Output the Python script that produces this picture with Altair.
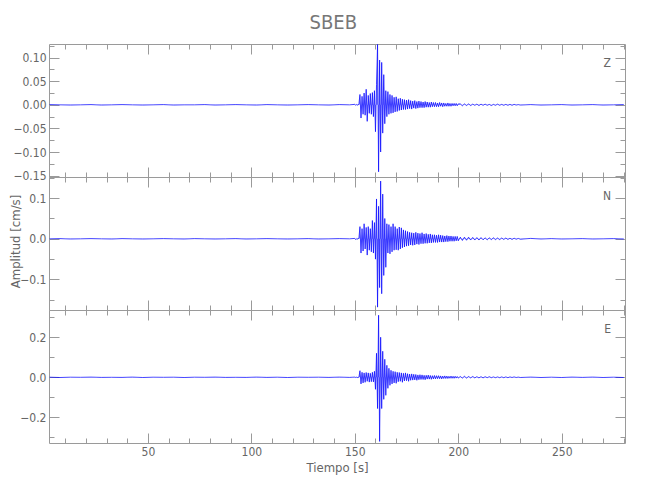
import altair as alt
import numpy as np
import pandas as pd

TITLE = "SBEB"
COMPONENTS = ["Z", "N", "E"]
X_TITLE = "Tiempo [s]"
Y_TITLE = "Amplitud [cm/s]"

# Sample layout of the traces: (start time [s], step [s]) for each segment
SEGMENTS = [(2.5, 5.0), (150.0, 0.5), (201.0, 1.0), (235.0, 5.0)]

# Trace amplitudes, in thousandths of cm/s, per segment
Z_PRE = [0.5, 0, -0.5, 0, 0.5, -0.5, 0, 0.5, 0, -0.5, 0, 0.5, -0.5, 0, 0, 0.5,
         -0.5, 0, 0.5, 0, -0.5, 0.5, 0, -0.5, 0, 0.5, 0, -0.5, 0.5, 0]
Z_EVENT = [1, -1, 1, -1, 2,
           22, -28, 18, -20, 25, -22, 33, -35, 20, -18,
           24, -20, 26, -25, 30, -57, 43, 128, -142, 95,
           -100, 90, -60, 64, -40, 30, -25, 28, -20, 22,
           -18, 20, -17, 16, -15, 17, -14, 13, -12, 14,
           -11, 12, -10, 11, -10, 10, -9, 11, -8, 9,
           -9, 8, -7, 9, -8, 7, -7, 8, -6, 7,
           -6, 6, -6, 7, -5, 6, -5, 5, -5, 6,
           -4, 5, -4, 5, -4, 4, -4, 5, -3, 4,
           -4, 4, -3, 3, -3, 4, -3, 3, -3, 3,
           -2, 3, -2, 3, -2, 2]
Z_CODA = [2, -2, 2, -1.5, 2, -1.5, 1.5, -1, 1.5, -1.5, 1.5, -1, 1.5, -1, 1, -1.5,
          1, -1, 1.5, -1, 1, -1, 1, -1, 1, -1, 1, -0.5, 0.5, -0.5]
Z_POST = [0.5, -0.5, 0, 0.5, -0.5, 0, 0.5, -0.5, 0, 0.5]

N_PRE = [0, 0.5, -0.5, 0, 0.5, 0, -0.5, 0.5, 0, -0.5, 0, 0.5, 0, -0.5, 0.5, 0,
         -0.5, 0, 0.5, -0.5, 0, 0.5, 0, -0.5, 0, 0.5, -0.5, 0, 0.5, 0]
N_EVENT = [1, -2, 1, -1, 2,
           30, -35, 25, -30, 37, -25, 28, -40, 30, -28,
           25, -32, 45, -35, 40, -50, 98, -168, 80, -120,
           142, -135, 110, -90, 50, -70, 37, -35, 35, -37,
           30, -32, 37, -28, 30, -27, 25, -28, 29, -25,
           27, -22, 22, -20, 20, -18, 18, -17, 16, -15,
           15, -16, 14, -15, 16, -13, 14, -14, 13, -12,
           15, -12, 12, -11, 13, -11, 11, -10, 12, -10,
           10, -9, 10, -9, 9, -9, 10, -8, 9, -8,
           8, -8, 7, -7, 8, -7, 7, -6, 7, -6,
           6, -6, 6, -5, 6, -5]
N_CODA = [4, -4, 4, -3.5, 4, -3, 3.5, -3, 3, -3, 3, -2.5, 2.5, -2.5, 2.5, -2, 2.5,
          -2, 2, -2, 2, -1.5, 2, -1.5, 1.5, -1.5, 1.5, -1, 1, -1]
N_POST = [1, -0.5, 0.5, -0.5, 0, 0.5, -0.5, 0, 0.5, -0.5]

E_PRE = [0.5, -1, 0.5, 0, 1, -0.5, 0, -0.5, 1, -1, 0.5, 0, 0.5, -1, 0.5, 0,
         1, -0.5, 0, -0.5, 1, -0.5, 0.5, -1, 0.5, 0, 0.5, -0.5, 1, -0.5]
E_EVENT = [1, -1, 1, -2, 1,
           33, -33, 25, -28, 22, -25, 24, -20, 22, -24,
           20, -22, 25, -23, 30, -60, 120, -156, 310, -320,
           200, -156, 130, -110, 90, -90, 60, -55, 45, -40,
           35, -33, 30, -28, 28, -30, 25, -22, 24, -20,
           22, -25, 20, -18, 22, -17, 18, -20, 16, -15,
           17, -14, 15, -13, 14, -15, 12, -12, 13, -11,
           12, -11, 10, -12, 10, -9, 11, -9, 9, -10,
           8, -8, 9, -8, 8, -7, 8, -7, 7, -8,
           6, -6, 7, -6, 6, -6, 5, -5, 6, -5,
           5, -5, 5, -4, 4, -4]
E_CODA = [4, -4, 5, -4, 4, -3, 4, -3, 3, -3, 3, -3, 3, -2, 3, -2, 2, -2, 2, -2,
          2, -2, 2, -2, 2, -1, 2, -1, 1, -1]
E_POST = [1, -1, 0.5, -1, 1, -0.5, 1, -1, 0.5, -1]

TRACE_VALUES = {
    "Z": [Z_PRE, Z_EVENT, Z_CODA, Z_POST],
    "N": [N_PRE, N_EVENT, N_CODA, N_POST],
    "E": [E_PRE, E_EVENT, E_CODA, E_POST],
}

X_DOMAIN = [2.2, 280.6]
Y_DOMAINS = {"Z": [-0.153, 0.129], "N": [-0.175, 0.152], "E": [-0.328, 0.336]}
Y_STEPS = {"Z": (0.05, 0.025, ".2f"), "N": (0.1, 0.05, ".1f"), "E": (0.2, 0.1, ".1f")}
X_MAJOR = [50, 100, 150, 200, 250]
X_MINOR = [10 * k for k in range(1, 29)]

FONT = "Liberation Sans Narrow, DejaVu Sans Condensed, Roboto, sans-serif"
AXC = "#9a9a9a"
TXC = "#666666"
TRACE = "#0000ff"


def trace_frame(comp):
    rows = []
    for (start, step), vals in zip(SEGMENTS, TRACE_VALUES[comp]):
        for k, v in enumerate(vals):
            rows.append({"t": start + step * k, "v": v / 1000.0})
    return pd.DataFrame(rows)


def ticks_in(lo, hi, step):
    n0 = int(np.ceil(lo / step - 1e-9))
    n1 = int(np.floor(hi / step + 1e-9))
    return [round(n * step, 6) for n in range(n0, n1 + 1)]


def panel(i):
    comp = COMPONENTS[i]
    df = trace_frame(comp)
    lo, hi = Y_DOMAINS[comp]
    major, minor, fmt = Y_STEPS[comp]
    y_major = ticks_in(lo, hi, major)
    y_minor = ticks_in(lo, hi, minor)
    last = i == len(COMPONENTS) - 1
    middle = i == 1

    xs = alt.Scale(domain=X_DOMAIN, nice=False, zero=False)
    ys = alt.Scale(domain=[lo, hi], nice=False, zero=False)
    common = dict(domain=False, grid=False, tickColor=AXC, tickWidth=1,
                  labelColor=TXC, labelFont=FONT, labelFontSize=12,
                  titleFont=FONT, titleColor=TXC, titleFontSize=13,
                  titleFontWeight="normal")

    x_kw = dict(orient="bottom", values=X_MAJOR, tickSize=10, offset=-10,
                labels=last, format="d", labelPadding=3, **common)
    if last:
        x_kw.update(title=X_TITLE, titlePadding=4)
    else:
        x_kw.update(title=None)
    y_kw = dict(orient="left", values=y_major, tickSize=10, offset=-10,
                format=fmt, labelPadding=3, **common)
    if middle:
        y_kw.update(title=Y_TITLE, titleX=-37, titleY=64)
    else:
        y_kw.update(title=None)

    base = alt.Chart(df)
    fill = base.mark_area(color=TRACE, opacity=0.45, clip=True).encode(
        x=alt.X("t:Q", scale=xs, axis=None),
        y=alt.Y("v:Q", scale=ys, axis=None),
        y2=alt.datum(0),
    )
    line = base.mark_line(color=TRACE, strokeWidth=0.7, clip=True).encode(
        x=alt.X("t:Q", scale=xs, axis=alt.Axis(**x_kw)),
        y=alt.Y("v:Q", scale=ys, axis=alt.Axis(**y_kw)),
    )

    def ghost(xo, xv, xsize, yo, yv, ysize):
        return base.mark_line(opacity=0).encode(
            x=alt.X("t:Q", scale=xs, axis=alt.Axis(
                orient=xo, values=xv, tickSize=xsize, offset=-xsize,
                labels=False, title=None, domain=False, grid=False,
                tickColor=AXC)),
            y=alt.Y("v:Q", scale=ys, axis=alt.Axis(
                orient=yo, values=yv, tickSize=ysize, offset=-ysize,
                labels=False, title=None, domain=False, grid=False,
                tickColor=AXC)),
        )

    g1 = ghost("bottom", X_MINOR, 5, "left", y_minor, 5)
    g2 = ghost("top", X_MAJOR, 10, "right", y_major, 10)
    g3 = ghost("top", X_MINOR, 5, "right", y_minor, 5)

    label = alt.Chart(pd.DataFrame({"comp": [comp]})).mark_text(
        align="right", baseline="middle", fontSize=12, font=FONT, color=TXC
    ).encode(x=alt.value(562), y=alt.value(19), text="comp:N")

    return alt.layer(fill, line, g1, g2, g3, label).resolve_axis(
        x="independent", y="independent"
    ).properties(width=576, height=133)


chart = alt.vconcat(*[panel(i) for i in range(len(COMPONENTS))],
                    spacing=0, bounds="flush").properties(
    title=alt.TitleParams(TITLE, fontSize=20, font=FONT, color="#777777",
                          fontWeight="normal", anchor="middle", offset=10,
                          dx=16),
    padding={"left": 0, "top": 5, "right": 0, "bottom": 0},
).configure_view(stroke=AXC, strokeWidth=1)

chart.save("out.html", embed_options={"renderer": "svg", "actions": False})
